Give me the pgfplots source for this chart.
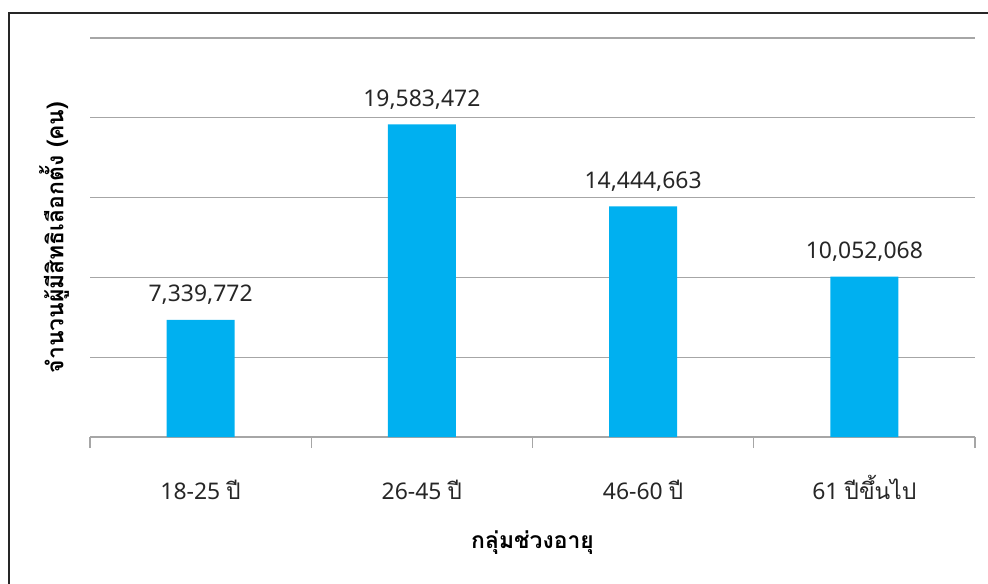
\documentclass[border=0pt]{standalone}
\usepackage{fontspec}
\usepackage{pgfplots}
\usepackage{pgfplotstable}
\pgfplotsset{compat=1.18}
\setmainfont{Noto Sans}
\newfontfamily\thai[Script=Thai]{Loma}
\definecolor{barblue}{HTML}{00B0F0}
\definecolor{gridgray}{HTML}{A6A6A6}
\definecolor{frame}{HTML}{262626}
\pgfplotstableread{
x y label
0 7339772 {7,339,772}
1 19583472 {19,583,472}
2 14444663 {14,444,663}
3 10052068 {10,052,068}
}\agedata
\begin{document}
\begin{tikzpicture}
\path[use as bounding box] (-90bp,-147bp) rectangle (898bp,437bp);
\begin{axis}[
  scale only axis,
  width=885bp, height=399bp,
  at={(0,0)}, anchor=south west,
  xmin=-0.5, xmax=3.5,
  ymin=0, ymax=25000000,
  scaled y ticks=false,
  axis line style={draw=none},
  ytick={0,5000000,10000000,15000000,20000000,25000000},
  yticklabels={},
  ymajorgrids,
  major grid style={draw=gridgray, line width=1.4bp},
  ytick style={draw=none},
  xtick={0,1,2,3},
  xticklabels={{18-25 {\thai ปี}},{26-45 {\thai ปี}},{46-60 {\thai ปี}},{61 {\thai ปีขึ้นไป}}},
  xtick style={draw=none},
  xtick pos=bottom,
  extra x ticks={-0.5,0.5,1.5,2.5,3.5},
  extra x tick labels={},
  extra x tick style={xtick style={draw=gridgray, line width=1.4bp}, major tick length=11bp, tick align=outside, xtick pos=bottom},
  tick label style={font=\fontsize{23}{27}\selectfont, text=black!85},
  xticklabel style={anchor=base, yshift=-58bp},
  every axis y label/.style={at={(axis description cs:0,0.5)}, xshift=-36bp, rotate=90, anchor=center},
  ylabel={\thai\bfseries จำนวนผู้มีสิทธิเลือกตั้ง (คน)},
  every axis x label/.style={at={(axis description cs:0.5,0)}, yshift=-111bp, anchor=base},
  xlabel={\thai\bfseries กลุ่มช่วงอายุ},
  label style={font=\fontsize{23}{27}\selectfont, text=black},
  ybar, bar width=68bp,
  point meta=explicit symbolic,
  nodes near coords,
  nodes near coords style={font=\fontsize{23}{27}\selectfont, text=black!85, anchor=base, yshift=18bp},
  clip=false,
]
\addplot[fill=barblue, draw=none] table[x=x, y=y, meta=label] {\agedata};
\end{axis}
\draw[line width=2.6bp, frame] (-81bp,-150bp) -- (-81bp,424bp) -- (900bp,424bp);
\end{tikzpicture}
\end{document}
